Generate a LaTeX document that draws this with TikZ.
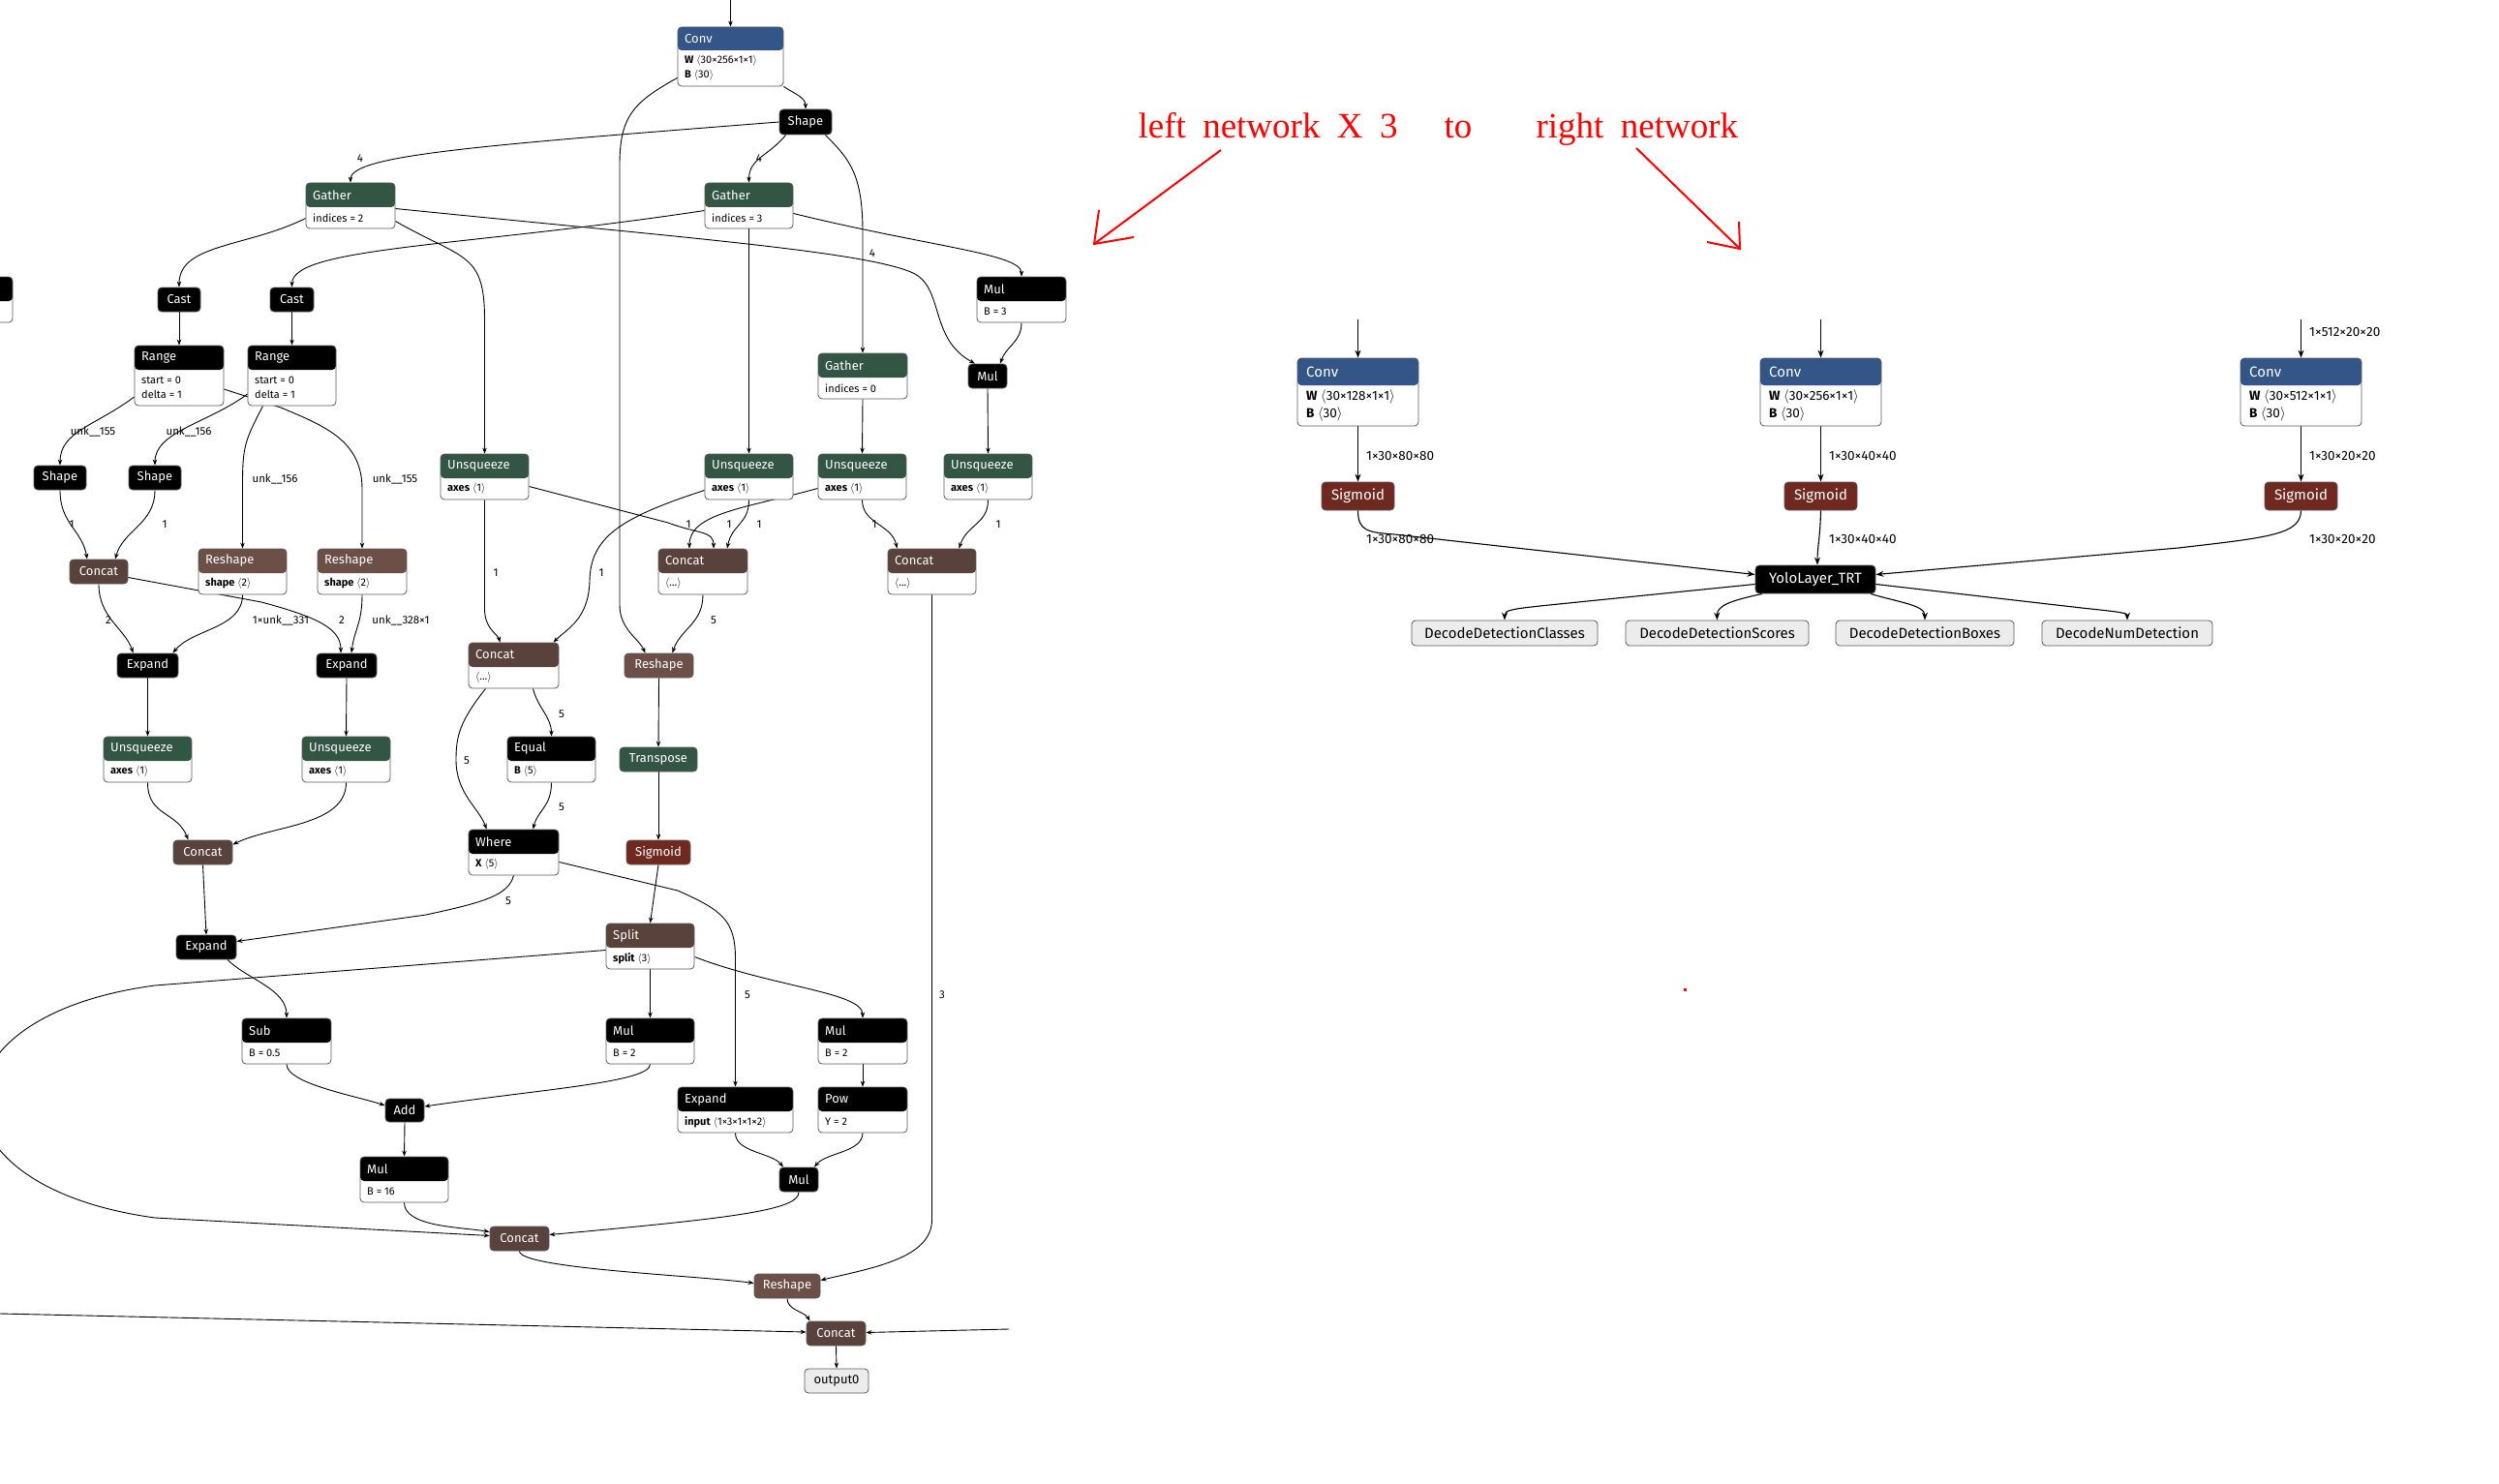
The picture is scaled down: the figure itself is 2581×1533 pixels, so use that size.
\documentclass[tikz,border=0pt]{standalone}
\usepackage{fontspec}
\setmainfont{Fira Sans}
\newfontfamily\notefont{Liberation Serif}
\usetikzlibrary{arrows.meta}

\definecolor{clayer}{RGB}{51,85,136}
\definecolor{ctransform}{RGB}{51,85,68}
\definecolor{ctensor}{RGB}{89,66,59}
\definecolor{cshape}{RGB}{108,79,71}
\definecolor{cactivation}{RGB}{112,41,33}
\definecolor{iogrey}{RGB}{236,236,236}

\pgfdeclarelayer{paper}
\pgfdeclarelayer{edges}
\pgfsetlayers{paper,edges,main}

\tikzset{
  netbox/.style={draw=black!65, rounded corners=4pt, line width=0.8pt, inner sep=0pt},
  opfont/.style={font=\fontsize{13}{13}\selectfont},
  attfont/.style={font=\fontsize{11}{15}\selectfont},
  ttl/.style={opfont, text=white, inner sep=0pt, anchor=west},
  att/.style={attfont, inner sep=0pt, anchor=west, align=left},
  lbl/.style={font=\fontsize{11.5}{11.5}\selectfont, inner sep=0pt},
  arr/.style={-{Stealth[length=6pt,width=4.5pt]}, line width=0.9pt},
  iobox/.style={netbox, fill=iogrey, text=black, opfont},
  notepen/.style={red, line width=2pt},
}

\newcommand{\titlepad}{7}
\newcommand{\tdim}[1]{$\langle$#1$\rangle$}

% plain node: name, x1, y1, x2, y2, colour, title
\newcommand{\opbox}[7]{%
  \node[netbox, fill=#6, text=white, opfont, minimum width={#4-(#2)}, minimum height={#5-(#3)}]
    (#1) at ({(#2+#4)/2},{(#3+#5)/2}) {#7};
}
% node with attributes: name, x1, y1, x2, y2, header height, colour, title, attributes
\newcommand{\attbox}[9]{%
  \node[netbox, fill=white, minimum width={#4-(#2)}, minimum height={#5-(#3)},
    path picture={\fill[#7] (path picture bounding box.north west) rectangle ([yshift=-#6pt]path picture bounding box.north east);}]
    (#1) at ({(#2+#4)/2},{(#3+#5)/2}) {};
  \node[ttl] (#1-t) at ({#2+\titlepad},{#3+#6/2}) {#8};
  \node[att] (#1-b) at ({#2+\titlepad},{(#5+#3+#6)/2}) {#9};
}

\begin{document}
\begin{tikzpicture}[x=1pt, y=-1pt]
  \useasboundingbox (0,0) rectangle (2581,1533);
  \begin{pgfonlayer}{paper}
    \fill[white] (0,0) rectangle (2581,1533);
  \end{pgfonlayer}

  % left network: top
  \attbox{conv}{700}{28}{809}{89}{24}{clayer}{Conv}{\textbf{W} \tdim{30×256×1×1}\\\textbf{B} \tdim{30}}
  \opbox{shapeT}{805}{113}{859}{139}{black}{Shape}
  \attbox{gatA}{316}{189}{408}{236}{25}{ctransform}{Gather}{indices = 2}
  \attbox{gatB}{728}{189}{819}{236}{25}{ctransform}{Gather}{indices = 3}
  \opbox{castA}{163}{297}{207}{322}{black}{Cast}
  \opbox{castB}{279}{297}{324}{322}{black}{Cast}
  \attbox{mulA}{1009}{286}{1101}{333}{25}{black}{Mul}{B = 3}
  \attbox{cut}{-80}{286}{13}{333}{25}{black}{}{}
  \attbox{rangeA}{139}{357}{231}{419}{25}{black}{Range}{start = 0\\delta = 1}
  \attbox{rangeB}{256}{357}{347}{419}{25}{black}{Range}{start = 0\\delta = 1}
  \attbox{gatC}{845}{365}{937}{412}{25}{ctransform}{Gather}{indices = 0}
  \opbox{mulB}{1000}{376}{1040}{401}{black}{Mul}

  % unsqueeze row
  \foreach \n/\x in {unsA/455, unsB/728, unsC/845, unsD/975} {
    \attbox{\n}{\x}{469}{\x+91}{516}{25}{ctransform}{Unsqueeze}{\textbf{axes} \tdim{1}}
  }

  % left network: middle
  \opbox{shapeA}{35}{481}{89}{506}{black}{Shape}
  \opbox{shapeB}{133}{481}{187}{506}{black}{Shape}
  \attbox{reshA}{205}{567}{296}{614}{25}{cshape}{Reshape}{\textbf{shape} \tdim{2}}
  \attbox{reshB}{328}{567}{420}{614}{25}{cshape}{Reshape}{\textbf{shape} \tdim{2}}
  \opbox{catA}{72}{578}{132}{603}{ctensor}{Concat}
  \attbox{catU}{680}{567}{772}{614}{25}{ctensor}{Concat}{\tdim{...}}
  \attbox{catR}{917}{567}{1008}{614}{25}{ctensor}{Concat}{\tdim{...}}
  \attbox{catM}{484}{664}{577}{711}{25}{ctensor}{Concat}{\tdim{...}}
  \opbox{reshM}{645}{675}{716}{700}{cshape}{Reshape}
  \opbox{expA}{121}{675}{184}{700}{black}{Expand}
  \opbox{expB}{327}{675}{389}{700}{black}{Expand}
  \attbox{unsE}{107}{761}{198}{808}{25}{ctransform}{Unsqueeze}{\textbf{axes} \tdim{1}}
  \attbox{unsF}{312}{761}{403}{808}{25}{ctransform}{Unsqueeze}{\textbf{axes} \tdim{1}}
  \attbox{equal}{524}{761}{615}{808}{25}{black}{Equal}{\textbf{B} \tdim{5}}
  \opbox{transp}{640}{772}{720}{797}{ctransform}{Transpose}
  \opbox{catL}{179}{868}{240}{893}{ctensor}{Concat}
  \attbox{where}{484}{857}{577}{904}{25}{black}{Where}{\textbf{X} \tdim{5}}
  \opbox{sigL}{647}{868}{713}{893}{cactivation}{Sigmoid}

  % left network: bottom
  \opbox{expL}{182}{966}{244}{991}{black}{Expand}
  \attbox{split}{626}{954}{717}{1001}{25}{ctensor}{Split}{\textbf{split} \tdim{3}}
  \attbox{sub}{250}{1052}{342}{1099}{25}{black}{Sub}{B = 0.5}
  \attbox{mulS}{626}{1052}{717}{1099}{25}{black}{Mul}{B = 2}
  \attbox{mulT}{845}{1052}{937}{1099}{25}{black}{Mul}{B = 2}
  \opbox{add}{398}{1135}{438}{1159}{black}{Add}
  \attbox{expI}{700}{1123}{819}{1170}{25}{black}{Expand}{\textbf{input} \tdim{1×3×1×1×2}}
  \attbox{pow}{845}{1123}{937}{1170}{25}{black}{Pow}{Y = 2}
  \attbox{mul16}{372}{1195}{463}{1242}{25}{black}{Mul}{B = 16}
  \opbox{mulP}{805}{1206}{845}{1231}{black}{Mul}
  \opbox{catF}{506}{1267}{567}{1292}{ctensor}{Concat}
  \opbox{reshF}{779}{1316}{847}{1341}{cshape}{Reshape}
  \opbox{catO}{833}{1365}{894}{1390}{ctensor}{Concat}
  \node[iobox, minimum width=66, minimum height=25] (out) at (864,1426.5) {output0};

  \coordinate (convIn) at (754.5,0);
  \coordinate (catOinL) at (0,1357);
  \coordinate (catOinR) at (1042,1373);

  % edge labels
  \foreach \x/\y/\t [count=\i] in {372/164/4, 784/164/4, 901/262/4,
      96/446/unk\_\_155, 195/446/unk\_\_156, 284/495/unk\_\_156, 408/495/unk\_\_155,
      74/542/1, 170/542/1, 711/542/1, 753/542/1, 784/542/1, 903/542/1, 1031/542/1,
      512/592/1, 621/592/1, 112/641/2, 290/641/1×unk\_\_331, 353/641/2,
      414/641/unk\_\_328×1, 737/641/5, 580/738/5, 482/786/5, 580/834/5,
      525/931/5, 772/1028/5, 973/1028/3} {
    \node[lbl] (lab\i) at (\x,\y) {\t};
  }

  \begin{pgfonlayer}{edges}
    \draw[arr] (convIn) -- (conv.north);
    \draw[arr] (conv.south east) .. controls +(12,8) and +(0,-12) .. (shapeT.north);
    \draw[arr] ([yshift=9pt]conv.south west) .. controls +(-45,25) and +(0,-50) .. (640,170) -- (640,625)
      .. controls (640,650) and (660,660) .. ([xshift=-14pt]reshM.north);
    \draw[arr] (shapeT.west) .. controls (500,150) and (362,160) .. (gatA.north);
    \draw[arr] ([xshift=7pt]shapeT.south west) .. controls +(-18,22) and +(0,-25) .. (gatB.north);
    \draw[arr] ([xshift=-7pt]shapeT.south east) .. controls +(25,25) and +(0,-60) .. (891,240) -- (gatC.north);
    \draw[arr] ([yshift=-13pt]gatA.west) .. controls +(-60,30) and +(0,-45) .. (castA.north);
    \draw[arr] ([yshift=-16pt]gatA.east) .. controls +(70,40) and +(0,-70) .. (500.5,330) -- (unsA.north);
    \draw[arr] ([yshift=-3pt]gatA.east) .. controls (700,245) and (900,260) .. (945,283)
      .. controls (975,300) and (960,350) .. ([xshift=-13pt]mulB.north);
    \draw[arr] ([yshift=-5pt]gatB.west) .. controls (480,255) and (302,255) .. (castB.north);
    \draw[arr] (gatB.south) -- (unsB.north);
    \draw[arr] ([yshift=-8pt]gatB.east) .. controls (960,255) and (1055,262) .. (mulA.north);
    \draw[arr] (mulA.south) .. controls +(0,20) and +(6,-18) .. ([xshift=13pt]mulB.north);
    \draw[arr] (castA.south) -- (rangeA.north);
    \draw[arr] (castB.south) -- (rangeB.north);
    \draw[arr] (gatC.south) -- (unsC.north);
    \draw[arr] (mulB.south) -- (unsD.north);
    \draw[arr] ([yshift=-22pt]rangeA.west) .. controls +(-40,30) and +(0,-35) .. (shapeA.north);
    \draw[arr] ([yshift=-19pt]rangeB.west) .. controls +(-40,30) and +(0,-35) .. (shapeB.north);
    \draw[arr] ([xshift=-30pt]rangeB.south) .. controls +(-18,35) and +(0,-40) .. (250.5,500) -- (reshA.north);
    \draw[arr] ([yshift=-14pt]rangeA.east) -- (290,421) .. controls (335,440) and (374,455) .. (374,505) -- (reshB.north);
    \draw[arr] (shapeA.south) .. controls +(0,35) and +(-5,-30) .. ([xshift=-12pt]catA.north);
    \draw[arr] (shapeB.south) .. controls +(0,35) and +(8,-30) .. ([xshift=17pt]catA.north);
    \draw[arr] ([yshift=-10pt]unsA.east) -- (690,540) .. controls (722,552) and (737,548) .. ([xshift=11pt]catU.north);
    \draw[arr] (unsA.south) -- (500.5,630) .. controls (501,650) and (514,655) .. ([xshift=-14pt]catM.north);
    \draw[arr] ([yshift=-14pt]unsB.west) .. controls (640,535) and (610,555) .. (609,600)
      .. controls (608,640) and (585,650) .. ([xshift=41pt]catM.north);
    \draw[arr] (unsB.south) .. controls +(0,25) and +(5,-25) .. ([xshift=25pt]catU.north);
    \draw[arr] ([yshift=-12pt]unsC.west) .. controls (770,525) and (712,530) .. ([xshift=-14pt]catU.north);
    \draw[arr] (unsC.south) .. controls +(0,25) and +(-5,-25) .. ([xshift=-36pt]catR.north);
    \draw[arr] (unsD.south) .. controls +(0,25) and +(8,-25) .. ([xshift=28pt]catR.north);
    \draw[arr] (catU.south) .. controls +(0,30) and +(8,-25) .. ([xshift=14pt]reshM.north);
    \draw[arr] (catA.south) .. controls +(0,35) and +(-8,-25) .. ([xshift=-15pt]expA.north);
    \draw[arr] ([yshift=-6pt]catA.east) -- (270,622) .. controls (330,638) and (352,650) .. ([xshift=-6pt]expB.north);
    \draw[arr] (reshA.south) .. controls +(0,35) and +(20,-25) .. ([xshift=26pt]expA.north);
    \draw[arr] (reshB.south) .. controls +(0,30) and +(3,-25) .. ([xshift=5pt]expB.north);
    \draw[arr] (expA.south) -- (unsE.north);
    \draw[arr] (expB.south) -- (unsF.north);
    \draw[arr] (unsE.south) .. controls +(0,35) and +(-12,-30) .. ([xshift=-15pt]catL.north);
    \draw[arr] (unsF.south) .. controls +(0,45) and +(40,-20) .. ([yshift=8pt]catL.east);
    \draw[arr] (catL.south) -- (expL.north);
    \draw[arr] ([xshift=20pt]catM.south) .. controls +(5,20) and +(0,-20) .. (equal.north);
    \draw[arr] ([xshift=-29pt]catM.south) .. controls (475,745) and (471,760) .. (471,785)
      .. controls (471,820) and (495,835) .. ([xshift=-28pt]where.north);
    \draw[arr] (equal.south) .. controls +(0,25) and +(5,-20) .. ([xshift=20pt]where.north);
    \draw[arr] (where.south) .. controls (525,925) and (500,932) .. (440,945) -- ([yshift=6pt]expL.east);
    \draw[arr] ([yshift=-10pt]where.east) -- (700,920) .. controls (745,940) and (759.5,950) .. (759.5,990) -- (expI.north);
    \draw[arr] (reshM.south) -- (transp.north);
    \draw[arr] (transp.south) -- (sigL.north);
    \draw[arr] (sigL.south) -- (split.north);
    \draw[arr] (catR.south) -- (962.5,1260) .. controls (962.5,1300) and (900,1310) .. ([yshift=6pt]reshF.east);
    \draw[arr] ([xshift=22pt]expL.south) .. controls +(20,20) and +(0,-30) .. (sub.north);
    \draw[arr] ([yshift=-4pt]split.west) -- (160,1018) .. controls (-80,1050) and (-80,1225) .. (160,1258)
      -- ([yshift=3pt]catF.west);
    \draw[arr] (split.south) -- (mulS.north);
    \draw[arr] ([yshift=-11pt]split.east) .. controls (800,1020) and (891,1025) .. (mulT.north);
    \draw[arr] (sub.south) .. controls +(0,20) and +(-30,-10) .. ([yshift=5pt]add.west);
    \draw[arr] (mulS.south) .. controls (671.5,1118) and (560,1125) .. ([yshift=4pt]add.east);
    \draw[arr] (add.south) -- (mul16.north);
    \draw[arr] (mulT.south) -- (pow.north);
    \draw[arr] (expI.south) .. controls +(0,20) and +(-12,-15) .. ([xshift=-16pt]mulP.north);
    \draw[arr] (pow.south) .. controls +(0,20) and +(12,-15) .. ([xshift=16pt]mulP.north);
    \draw[arr] (mul16.south) .. controls +(0,25) and +(-30,-5) .. ([yshift=7pt]catF.west);
    \draw[arr] (mulP.south) .. controls (825,1250) and (760,1258) .. ([yshift=4pt]catF.east);
    \draw[arr] (catF.south) .. controls +(0,18) and +(-60,-8) .. ([yshift=3pt]reshF.west);
    \draw[arr] (reshF.south) .. controls +(0,12) and +(-6,-10) .. ([xshift=-27pt]catO.north);
    \draw[arr] (catOinL) -- ([yshift=1.5pt]catO.west);
    \draw[arr] (catOinR) -- ([yshift=1pt]catO.east);
    \draw[arr] (catO.south) -- (out.north);
  \end{pgfonlayer}

  % right network
  \begin{scope}[opfont/.style={font=\fontsize{15}{15}\selectfont},
      attfont/.style={font=\fontsize{13.5}{17.5}\selectfont},
      lbl/.style={font=\fontsize{13.5}{13.5}\selectfont, inner sep=0pt, anchor=west},
      arr/.style={-{Stealth[length=8pt,width=6pt]}, line width=1.1pt}]
    \renewcommand{\titlepad}{9}
    \foreach \n/\x/\c/\s in {1/1340/128/80, 2/1818/256/40, 3/2314/512/20} {
      \attbox{convR\n}{\x}{370}{\x+125}{440}{28}{clayer}{Conv}{\textbf{W} \tdim{30×\c×1×1}\\\textbf{B} \tdim{30}}
      \opbox{sigR\n}{\x+25}{498}{\x+100}{527}{cactivation}{Sigmoid}
      \coordinate (inR\n) at (\x+62.5,330);
      \node[lbl] (dimA\n) at (\x+71,471) {1×30×\s×\s};
      \node[lbl] (dimB\n) at (\x+71,557) {1×30×\s×\s};
      \begin{pgfonlayer}{edges}
        \draw[arr] (inR\n) -- (convR\n.north);
        \draw[arr] (convR\n.south) -- (sigR\n.north);
      \end{pgfonlayer}
    }
    \node[lbl] (dimIn) at (2385,343) {1×512×20×20};
    \opbox{yolo}{1813}{584}{1937}{613}{black}{YoloLayer\_TRT}
    \node[iobox, minimum width=192, minimum height=26] (dcls) at (1554,654) {DecodeDetectionClasses};
    \node[iobox, minimum width=189, minimum height=26] (dscr) at (1773.5,654) {DecodeDetectionScores};
    \node[iobox, minimum width=184, minimum height=26] (dbox) at (1988,654) {DecodeDetectionBoxes};
    \node[iobox, minimum width=176, minimum height=26] (dnum) at (2197,654) {DecodeNumDetection};

    \begin{pgfonlayer}{edges}
      \draw[arr] (sigR1.south) .. controls (1402.5,548) and (1412,550) .. (1440,552) -- ([yshift=5pt]yolo.west);
      \draw[arr] (sigR2.south) .. controls (1880,555) and (1877,565) .. ([xshift=2pt]yolo.north);
      \draw[arr] (sigR3.south) .. controls (2376,552) and (2345,555) .. (2250,566) -- ([yshift=5pt]yolo.east);
      \draw[arr] ([yshift=-5pt]yolo.west) -- (1600,625) .. controls (1562,629) and (1554,630) .. (dcls.north);
      \draw[arr] ([xshift=-55pt]yolo.south) .. controls (1790,620) and (1773,625) .. (dscr.north);
      \draw[arr] ([xshift=57pt]yolo.south) .. controls (1960,622) and (1988,625) .. (dbox.north);
      \draw[arr] ([yshift=-5pt]yolo.east) -- (2150,628) .. controls (2188,632) and (2197,633) .. (dnum.north);
    \end{pgfonlayer}
  \end{scope}

  % red note
  \node[anchor=base west, text=red, font=\notefont\fontsize{37}{37}\selectfont] (noteL) at (1172,143)
    {\spaceskip=0.47em\relax left network X 3};
  \node[anchor=base west, text=red, font=\notefont\fontsize{37}{37}\selectfont] (noteM) at (1488,143) {to};
  \node[anchor=base west, text=red, font=\notefont\fontsize{37}{37}\selectfont] (noteR) at (1583,143)
    {\spaceskip=0.47em\relax right network};
  \coordinate (tipL) at (1130,252);
  \coordinate (tipR) at (1797,257);
  \draw[notepen] (1261,155) -- (tipL);
  \draw[notepen] (1135,217) -- (tipL) -- (1171,245);
  \draw[notepen] (1690,153) -- (tipR);
  \draw[notepen] (1796,229) -- (tipR) -- (1763,250);
  \fill[red] (1739,1021) rectangle (1741.5,1023.5);
\end{tikzpicture}
\end{document}
